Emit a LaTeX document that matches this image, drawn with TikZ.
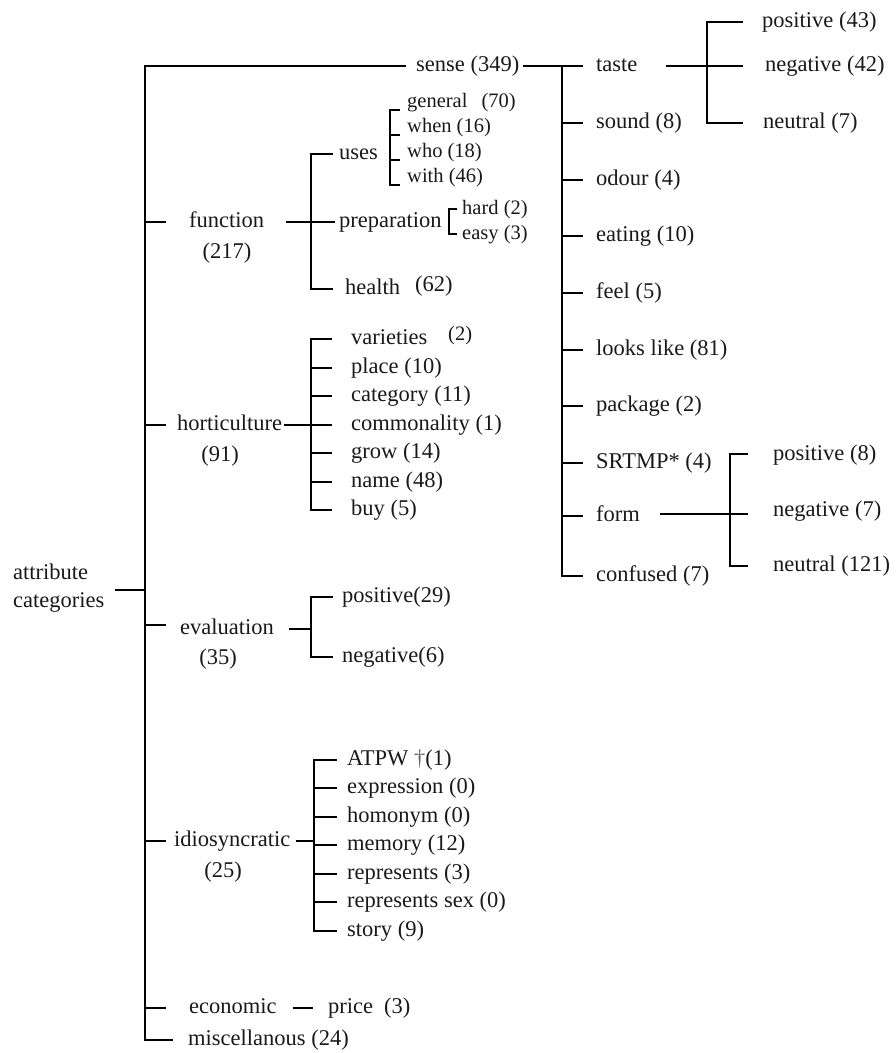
\documentclass[tikz,border=0pt]{standalone}
\usepackage{fontspec}
\setmainfont{Liberation Serif}
\usetikzlibrary{calc}
\begin{document}
\begin{tikzpicture}[x=1pt,y=-1pt,
  lbl/.style={font=\fontsize{22.5}{27}\selectfont, text=black!90, anchor=west, inner sep=0pt, text height=16pt, text depth=4.5pt},
  sml/.style={font=\fontsize{20.5}{24}\selectfont, text=black!90, anchor=west, inner sep=0pt, text height=14.5pt, text depth=4pt},
  cnt/.style={lbl, anchor=center},
  ln/.style={line width=1.8pt, line join=miter}]
\useasboundingbox (0,0) rectangle (896,1053);

% ---------- root ----------
\node[lbl] (rootA) at (13,574) {attribute};
\node[lbl] (rootB) at (13,602) {categories};
\coordinate (trunkTop) at (145,66);
\coordinate (trunkBot) at (145,1040);
\coordinate (rootJ) at (145,590);
\draw[ln] ($(rootB.east |- rootJ)+(10,0)$) -- (rootJ);

% ---------- level 1 ----------
\node[lbl] (sense) at (416,66) {sense (349)};
\node[lbl] (function) at (189,222) {function};
\node[cnt] (functionC) at (227,253) {(217)};
\node[lbl] (hort) at (177,425) {horticulture};
\node[cnt] (hortC) at (220,456) {(91)};
\node[lbl] (eval) at (180,629) {evaluation};
\node[cnt] (evalC) at (218,659) {(35)};
\node[lbl] (idio) at (174,841) {idiosyncratic};
\node[cnt] (idioC) at (223,872) {(25)};
\node[lbl] (econ) at (189,1008) {economic};
\node[lbl] (misc) at (188,1040) {miscellanous (24)};

\draw[ln] ($(sense.west)+(-10,0)$) -- (trunkTop) -- (trunkBot) -- ($(misc.west)+(-15,0)$);
\foreach \n in {function,hort,idio,econ}
  \draw[ln] (trunkTop |- \n.west) -- ++(21,0);
\draw[ln] ($(trunkTop |- eval.west)+(0,-4)$) -- ++(21,0);

% ---------- function ----------
\node[lbl] (uses) at (339,154) {uses};
\node[lbl] (prep) at (339,222) {preparation};
\node[lbl] (health) at (345,289) {health};
\node[lbl] (healthC) at (415,286) {(62)};
\coordinate (fTop) at (311,154);
\coordinate (fBot) at (311,289);
\draw[ln] ($(function.east)+(22,0)$) -- (fTop |- function.west);
\draw[ln] ($(uses.west)+(-6,0)$) -- (fTop) -- (fBot) -- ($(health.west)+(-12,0)$);
\draw[ln] (fTop |- prep.west) -- ($(prep.west)+(-4,0)$);

% uses list
\node[sml] (general) at (407,102) {general\hspace{14pt}(70)};
\node[sml] (when) at (407,127) {when (16)};
\node[sml] (who) at (407,152) {who (18)};
\node[sml] (with) at (407,177) {with (46)};
\coordinate (uTop) at (390,110);
\coordinate (uBot) at (390,185);
\draw[ln] ($(uTop)+(10,0)$) -- (uTop) -- (uBot) -- ($(uBot)+(10,0)$);
\foreach \n in {when,who}
  \draw[ln] ($(uTop |- \n.west)+(0,8)$) -- ++(10,0);

% preparation list
\node[sml] (hard) at (462,209) {hard (2)};
\node[sml] (easy) at (462,234) {easy (3)};
\coordinate (pTop) at (449,209);
\coordinate (pBot) at (449,234);
\draw[ln] ($(hard.west)+(-5,0)$) -- (pTop) -- (pBot) -- ($(easy.west)+(-5,0)$);

% ---------- horticulture ----------
\node[lbl] (varieties) at (351,339) {varieties};
\node[sml] (varietiesC) at (448,335) {(2)};
\node[lbl] (place) at (351,368) {place (10)};
\node[lbl] (category) at (351,396) {category (11)};
\node[lbl] (commonality) at (351,425) {commonality (1)};
\node[lbl] (grow) at (351,453) {grow (14)};
\node[lbl] (name) at (351,482) {name (48)};
\node[lbl] (buy) at (351,510) {buy (5)};
\coordinate (hTop) at (311,339);
\coordinate (hBot) at (311,510);
\draw[ln] ($(hort.east)+(2,0)$) -- (hTop |- hort.west);
\draw[ln] ($(varieties.west)+(-19,0)$) -- (hTop) -- (hBot) -- ($(buy.west)+(-19,0)$);
\foreach \n in {place,category,commonality,grow,name}
  \draw[ln] (hTop |- \n.west) -- ($(\n.west)+(-19,0)$);

% ---------- evaluation ----------
\node[lbl] (epos) at (342,597) {positive(29)};
\node[lbl] (eneg) at (342,657) {negative(6)};
\coordinate (eTop) at (311,597);
\coordinate (eBot) at (311,657);
\draw[ln] ($(eval.east)+(15,0)$) -- (eTop |- eval.west);
\draw[ln] ($(epos.west)+(-9,0)$) -- (eTop) -- (eBot) -- ($(eneg.west)+(-9,0)$);

% ---------- idiosyncratic ----------
\node[lbl] (atpw) at (347,760) {ATPW \textcolor{black!60}{†}(1)};
\node[lbl] (expression) at (347,788) {expression (0)};
\node[lbl] (homonym) at (347,817) {homonym (0)};
\node[lbl] (memory) at (347,845) {memory (12)};
\node[lbl] (represents) at (347,874) {represents (3)};
\node[lbl] (repsex) at (347,902) {represents sex (0)};
\node[lbl] (story) at (347,931) {story (9)};
\coordinate (iTop) at (314,760);
\coordinate (iBot) at (314,931);
\draw[ln] ($(idio.east)+(5,0)$) -- (iTop |- idio.west);
\draw[ln] ($(atpw.west)+(-10,0)$) -- (iTop) -- (iBot) -- ($(story.west)+(-10,0)$);
\foreach \n in {expression,homonym,memory,represents,repsex}
  \draw[ln] (iTop |- \n.west) -- ($(\n.west)+(-10,0)$);

% ---------- economic ----------
\node[lbl] (price) at (328,1008) {price\hspace{11pt}(3)};
\draw[ln] ($(econ.east)+(16,0)$) -- ($(price.west)+(-15,0)$);

% ---------- sense ----------
\node[lbl] (taste) at (596,66) {taste};
\node[lbl] (sound) at (596,123) {sound (8)};
\node[lbl] (odour) at (596,180) {odour (4)};
\node[lbl] (eating) at (596,236) {eating (10)};
\node[lbl] (feel) at (596,293) {feel (5)};
\node[lbl] (looks) at (596,350) {looks like (81)};
\node[lbl] (package) at (596,406) {package (2)};
\node[lbl] (srtmp) at (596,463) {SRTMP* (4)};
\node[lbl] (form) at (596,516) {form};
\node[lbl] (confused) at (596,576) {confused (7)};
\coordinate (sTop) at (562,66);
\coordinate (sBot) at (562,576);
\draw[ln] ($(sense.east)+(3,0)$) -- ($(taste.west)+(-13,0)$);
\draw[ln] (sTop) -- (sBot) -- ($(confused.west)+(-13,0)$);
\foreach \n in {sound,odour,eating,feel,looks,package,srtmp,form}
  \draw[ln] (sTop |- \n.west) -- ($(\n.west)+(-13,0)$);

% taste subtree
\node[lbl] (tpos) at (762,22) {positive (43)};
\node[lbl] (tneg) at (765,66) {negative (42)};
\node[lbl] (tneu) at (763,123) {neutral (7)};
\coordinate (tTop) at (707,22);
\coordinate (tBot) at (707,123);
\draw[ln] ($(taste.east)+(28,0)$) -- ($(tneg.west)+(-22,0)$);
\draw[ln] ($(tpos.west)+(-19,0)$) -- (tTop) -- (tBot) -- ($(tneu.west)+(-20,0)$);

% form subtree
\node[lbl] (fpos) at (773,455) {positive (8)};
\node[lbl] (fneg) at (773,511) {negative (7)};
\node[lbl] (fneu) at (773,566) {neutral (121)};
\coordinate (fmTop) at (730,454);
\coordinate (fmBot) at (730,566);
\draw[ln] ($(form.east)+(20,-2)$) -- ($(form.west -| fneg.west)+(-25,-2)$);
\draw[ln] ($(fpos.west)+(-25,-1)$) -- (fmTop) -- (fmBot) -- ($(fneu.west)+(-25,0)$);
\end{tikzpicture}
\end{document}
